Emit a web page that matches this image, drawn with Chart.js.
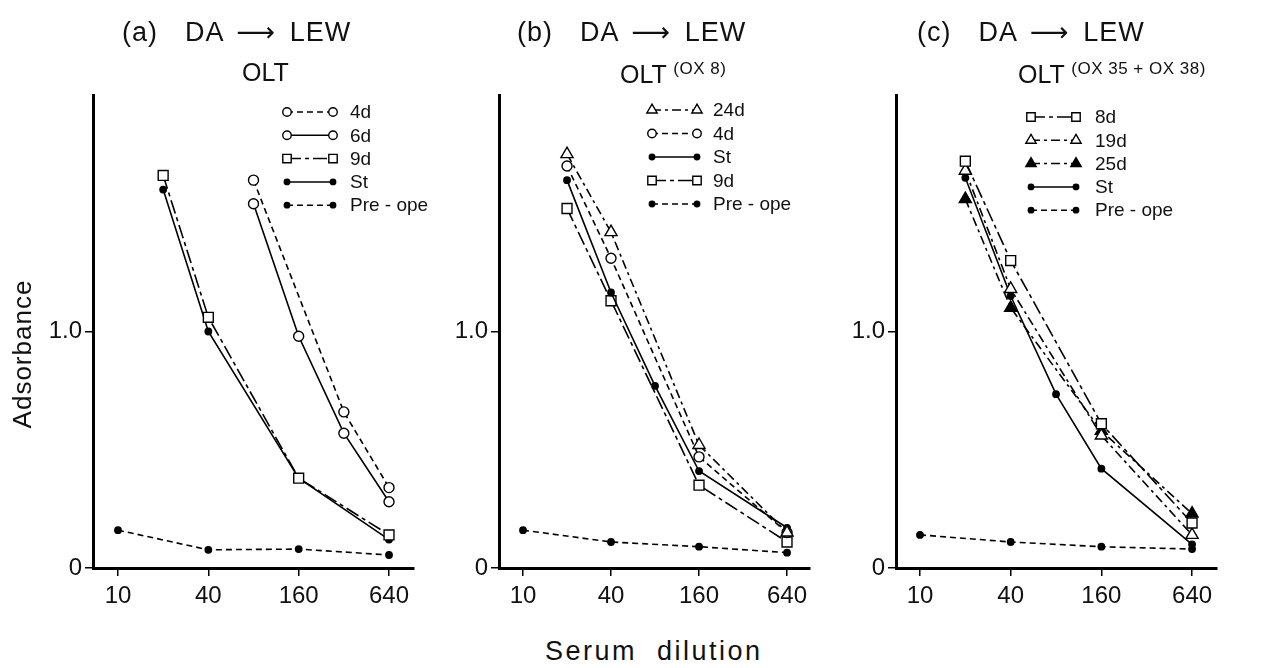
<!DOCTYPE html>
<html>
<head>
<meta charset="utf-8">
<script src="https://cdn.jsdelivr.net/npm/chart.js@4.4.1/dist/chart.umd.min.js"></script>
<style>
  body { margin: 0; background: #fff; width: 1272px; height: 668px; overflow: hidden; position: relative;
         font-family: "Liberation Sans", "DejaVu Sans", sans-serif; color: #111; }
  canvas { position: absolute; top: 0; }
  .t { position: absolute; white-space: pre; line-height: 1; }
  .title { font-size: 27px; letter-spacing: 1px; word-spacing: 5px; }
  .sub { font-size: 25px; }
  .sup { font-size: 17px; vertical-align: 9px; letter-spacing: 0.5px; }
  .arrow { font-family: "DejaVu Sans", sans-serif; }
</style>
</head>
<body>
<canvas id="ca" width="430" height="620" style="left:0px"></canvas>
<canvas id="cb" width="400" height="620" style="left:430px"></canvas>
<canvas id="cc" width="442" height="620" style="left:830px"></canvas>

<div class="t title" style="left:122px;top:18px">(a)  DA <span class="arrow">⟶</span> LEW</div>
<div class="t sub" style="left:242px;top:60px">OLT</div>
<div class="t title" style="left:517px;top:18px">(b)  DA <span class="arrow">⟶</span> LEW</div>
<div class="t sub" style="left:620px;top:60px">OLT <span class="sup">(OX 8)</span></div>
<div class="t title" style="left:917px;top:18px">(c)  DA <span class="arrow">⟶</span> LEW</div>
<div class="t sub" style="left:1018px;top:60px">OLT <span class="sup">(OX 35 + OX 38)</span></div>

<div class="t" style="left:-58px;top:341px;font-size:26px;letter-spacing:1px;transform:rotate(-90deg);width:160px;text-align:center">Adsorbance</div>
<div class="t" style="left:545px;top:638px;font-size:27px;letter-spacing:2.5px;word-spacing:10px">Serum dilution</div>

<script>
// tick values
const xTicks = [10, 40, 160, 640];
const yTicks = [0, 1];
const yTickLabels = ['0', '1.0'];

// (a) OLT
const a4dX = [80, 320, 640],          a4dY = [1.64, 0.66, 0.34];
const a6dX = [80, 160, 320, 640],     a6dY = [1.54, 0.98, 0.57, 0.28];
const a9dX = [20, 40, 160, 640],      a9dY = [1.66, 1.06, 0.38, 0.14];
const aStX = [20, 40, 160, 640],      aStY = [1.60, 1.00, 0.38, 0.12];
const aPreX = [10, 40, 160, 640],     aPreY = [0.16, 0.077, 0.08, 0.055];

// (b) OLT (OX 8)
const b24dX = [20, 40, 160, 640],     b24dY = [1.75, 1.42, 0.52, 0.15];
const b4dX = [20, 40, 160, 640],      b4dY = [1.70, 1.31, 0.47, 0.15];
const bStX = [20, 40, 80, 160, 640],  bStY = [1.64, 1.165, 0.77, 0.41, 0.17];
const b9dX = [20, 40, 160, 640],      b9dY = [1.52, 1.13, 0.35, 0.11];
const bPreX = [10, 40, 160, 640],     bPreY = [0.16, 0.11, 0.09, 0.065];

// (c) OLT (OX 35 + OX 38)
const c8dX = [20, 40, 160, 640],      c8dY = [1.72, 1.30, 0.61, 0.19];
const c19dX = [20, 40, 160, 640],     c19dY = [1.68, 1.18, 0.56, 0.14];
const c25dX = [20, 40, 160, 640],     c25dY = [1.56, 1.10, 0.58, 0.23];
const cStX = [20, 40, 80, 160, 640],  cStY = [1.65, 1.15, 0.735, 0.42, 0.10];
const cPreX = [10, 40, 160, 640],     cPreY = [0.14, 0.11, 0.09, 0.08];

const pts = (xs, ys) => xs.map((x, i) => ({ x: x, y: ys[i] }));

// marker / line styles
const openCircle = { pointStyle: 'circle', pointRadius: 5, pointBackgroundColor: '#fff' };
const openSquare = { pointStyle: 'rect', pointRadius: 7, pointBackgroundColor: '#fff' };
const openTri = { pointStyle: 'triangle', pointRadius: 7, pointBackgroundColor: '#fff' };
const fillTri = { pointStyle: 'triangle', pointRadius: 7, pointBackgroundColor: '#000' };
const dot = { pointStyle: 'circle', pointRadius: 3.2, pointBackgroundColor: '#000' };
const dashed = [6, 4];
const longShort = [14, 4, 4, 4];
const dashDot = [9, 4, 3, 4];

function ds(label, data, marker, dash) {
  return Object.assign({
    label: label, data: data, borderColor: '#000', borderWidth: 1.6, borderDash: dash,
    pointBorderColor: '#000', pointBorderWidth: 1.4, fill: false, tension: 0
  }, marker);
}

function drawMarker(ctx, d, x, y) {
  const r = d.pointRadius;
  ctx.save();
  ctx.setLineDash([]);
  ctx.lineWidth = d.pointBorderWidth;
  ctx.strokeStyle = '#000';
  ctx.fillStyle = d.pointBackgroundColor;
  ctx.beginPath();
  if (d.pointStyle === 'rect') {
    const s = r * Math.SQRT1_2;
    ctx.rect(x - s, y - s, 2 * s, 2 * s);
  } else if (d.pointStyle === 'triangle') {
    ctx.moveTo(x, y - r);
    ctx.lineTo(x + r * 0.866, y + r * 0.5);
    ctx.lineTo(x - r * 0.866, y + r * 0.5);
    ctx.closePath();
  } else {
    ctx.arc(x, y, r, 0, Math.PI * 2);
  }
  ctx.fill();
  ctx.stroke();
  ctx.restore();
}

// legend like the figure: marker - line - marker, label
const lineLegend = {
  id: 'lineLegend',
  afterDraw(chart, args, o) {
    const ctx = chart.ctx;
    chart.data.datasets.forEach((d, i) => {
      const y = o.y + i * o.gap;
      ctx.save();
      ctx.strokeStyle = '#000';
      ctx.lineWidth = 1.5;
      ctx.setLineDash(d.borderDash || []);
      ctx.beginPath();
      ctx.moveTo(o.x0, y);
      ctx.lineTo(o.x1, y);
      ctx.stroke();
      ctx.restore();
      const m = Object.assign({}, d, { pointRadius: d.pointRadius * 0.85 });
      drawMarker(ctx, m, o.x0, y);
      drawMarker(ctx, m, o.x1, y);
      ctx.fillStyle = '#111';
      ctx.font = '19px "Liberation Sans", sans-serif';
      ctx.textBaseline = 'middle';
      ctx.fillText(d.label, o.tx, y + 1);
    });
  }
};

function makeChart(id, datasets, xmin, xmax, yAxisW, padRight, legend) {
  return new Chart(document.getElementById(id), {
    type: 'line',
    data: { datasets: datasets },
    plugins: [lineLegend],
    options: {
      responsive: false,
      animation: false,
      layout: { autoPadding: false, padding: { top: 95, right: padRight, left: 0, bottom: 0 } },
      plugins: { legend: { display: false }, tooltip: { enabled: false }, lineLegend: legend },
      scales: {
        x: {
          type: 'logarithmic', min: xmin, max: xmax,
          afterBuildTicks: s => { s.ticks = xTicks.map(v => ({ value: v })); },
          afterFit: s => { s.height = 52; },
          ticks: { color: '#111', font: { size: 24, family: '"Liberation Sans", sans-serif' }, padding: 6,
                   maxRotation: 0, autoSkip: false, callback: v => String(v) },
          grid: { drawOnChartArea: false, drawTicks: true, tickLength: 8, color: '#000', lineWidth: 1.5 },
          border: { display: true, color: '#000', width: 3 }
        },
        y: {
          type: 'linear', min: 0, max: 2,
          afterBuildTicks: s => { s.ticks = yTicks.map(v => ({ value: v })); },
          afterFit: s => { s.width = yAxisW; },
          ticks: { color: '#111', font: { size: 24, family: '"Liberation Sans", sans-serif' }, padding: 3,
                   callback: v => yTickLabels[yTicks.indexOf(v)] },
          grid: { drawOnChartArea: false, drawTicks: true, tickLength: 8, color: '#000', lineWidth: 1.5 },
          border: { display: true, color: '#000', width: 3 }
        }
      }
    }
  });
}

makeChart('ca', [
  ds('4d', pts(a4dX, a4dY), openCircle, dashed),
  ds('6d', pts(a6dX, a6dY), openCircle, []),
  ds('9d', pts(a9dX, a9dY), openSquare, longShort),
  ds('St', pts(aStX, aStY), dot, []),
  ds('Pre - ope', pts(aPreX, aPreY), dot, dashed)
], 6.815, 939, 93, 16, { x0: 287, x1: 333, tx: 350, y: 112, gap: 23.3 });

makeChart('cb', [
  ds('24d', pts(b24dX, b24dY), openTri, dashDot),
  ds('4d', pts(b4dX, b4dY), openCircle, dashed),
  ds('St', pts(bStX, bStY), dot, []),
  ds('9d', pts(b9dX, b9dY), openSquare, longShort),
  ds('Pre - ope', pts(bPreX, bPreY), dot, dashed)
], 6.85, 919, 69, 20, { x0: 222, x1: 267, tx: 283, y: 110, gap: 23.5 });

makeChart('cc', [
  ds('8d', pts(c8dX, c8dY), openSquare, longShort),
  ds('19d', pts(c19dX, c19dY), openTri, dashDot),
  ds('25d', pts(c25dX, c25dY), fillTri, dashDot),
  ds('St', pts(cStX, cStY), dot, []),
  ds('Pre - ope', pts(cPreX, cPreY), dot, dashed)
], 6.93, 937, 66, 55, { x0: 201, x1: 246, tx: 265, y: 117, gap: 23.3 });
</script>
</body>
</html>
